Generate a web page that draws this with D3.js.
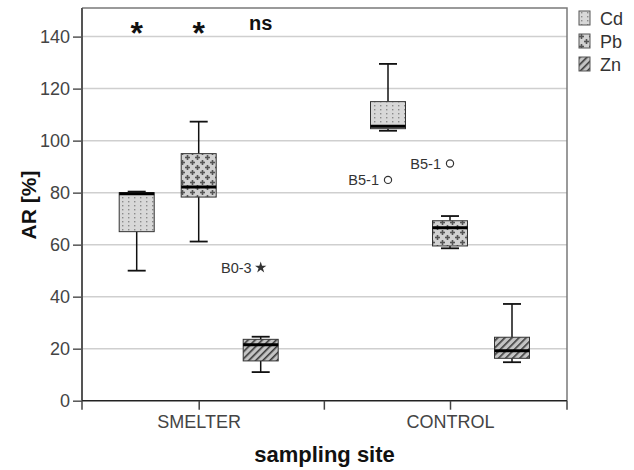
<!DOCTYPE html>
<html><head><meta charset="utf-8">
<script src="https://cdn.jsdelivr.net/npm/d3@7"></script>
<style>body{margin:0;background:#fff}svg{display:block}text{font-family:"Liberation Sans",Arial,sans-serif}</style>
</head><body><div id="chart"></div>
<script>
const sites = ["SMELTER", "CONTROL"];
const metals = ["Cd", "Pb", "Zn"];
// [min, q1, median, q3, max]
const cdStats = [[50, 65, 79.6, 80, 80.4], [103.8, 104.6, 105.5, 115, 129.5]];
const pbStats = [[61.2, 78.3, 82.2, 95, 107.3], [58.6, 59.5, 66.5, 69.2, 71]];
const znStats = [[11, 15.3, 21.5, 23.6, 24.6], [14.8, 16.3, 19.2, 24.4, 37.2]];
const outliers = [
  {site: "SMELTER", metal: "Zn", value: 51.2, label: "B0-3", type: "extreme"},
  {site: "CONTROL", metal: "Cd", value: 84.9, label: "B5-1", type: "outlier"},
  {site: "CONTROL", metal: "Pb", value: 91.2, label: "B5-1", type: "outlier"}
];
const signif = ["*", "*", "ns"];
const yTicks = [0, 20, 40, 60, 80, 100, 120, 140];

(function () {
const W = 634, H = 470;
const pLeft = 82, pRight = 567, pTop = 8, pBottom = 400.7;
const svg = d3.select("#chart").append("svg").attr("width", W).attr("height", H);
const defs = svg.append("defs");

// patterns
const pCd = defs.append("pattern").attr("id", "pCd").attr("patternUnits", "userSpaceOnUse").attr("width", 6).attr("height", 4);
pCd.append("rect").attr("width", 6).attr("height", 4).attr("fill", "#d8d8d8");
pCd.append("rect").attr("x", 2).attr("y", 1).attr("width", 1.4).attr("height", 1.4).attr("fill", "#8a8a8a");

const pPb = defs.append("pattern").attr("id", "pPb").attr("patternUnits", "userSpaceOnUse").attr("width", 10).attr("height", 10);
pPb.append("rect").attr("width", 10).attr("height", 10).attr("fill", "#d2d2d2");
[[2.5, 2.5], [7.5, 7.5]].forEach(([cx, cy]) => {
  pPb.append("rect").attr("x", cx - 2.5).attr("y", cy - 0.8).attr("width", 5).attr("height", 1.6).attr("fill", "#555");
  pPb.append("rect").attr("x", cx - 0.8).attr("y", cy - 2.5).attr("width", 1.6).attr("height", 5).attr("fill", "#555");
});

const pZn = defs.append("pattern").attr("id", "pZn").attr("patternUnits", "userSpaceOnUse").attr("width", 5).attr("height", 5).attr("patternTransform", "rotate(45)");
pZn.append("rect").attr("width", 5).attr("height", 5).attr("fill", "#c4c4c4");
pZn.append("rect").attr("x", 0).attr("y", 0).attr("width", 1.6).attr("height", 5).attr("fill", "#3a3a3a");

const fills = {Cd: "url(#pCd)", Pb: "url(#pPb)", Zn: "url(#pZn)"};
const statsBy = {Cd: cdStats, Pb: pbStats, Zn: znStats};

const y = d3.scaleLinear().domain([0, 151]).range([pBottom, pTop]);
const x = d3.scalePoint().domain(sites).range([198.7, 450]);
const xOff = d3.scalePoint().domain(metals).range([-62, 62]);
const boxW = 35, capW = 18;

// gridlines
svg.append("g").selectAll("line").data(yTicks.filter(d => d > 0)).join("line")
  .attr("x1", pLeft).attr("x2", pRight).attr("y1", d => y(d)).attr("y2", d => y(d))
  .attr("stroke", "#cfcfcf").attr("stroke-width", 1.5);

// frame top/right
svg.append("path").attr("d", `M${pLeft},${pTop}H${pRight}V${pBottom}`).attr("fill", "none").attr("stroke", "#7a7a7a").attr("stroke-width", 1.5);

// y axis
const yAxis = svg.append("g").attr("transform", `translate(${pLeft},0)`)
  .call(d3.axisLeft(y).tickValues(yTicks).tickSize(9).tickPadding(3));
yAxis.select(".domain").attr("stroke", "#555").attr("stroke-width", 2).attr("d", `M0,${pTop}V${pBottom}`);
yAxis.selectAll(".tick line").attr("stroke", "#555").attr("stroke-width", 1.5);
yAxis.selectAll(".tick text").attr("font-size", 18).attr("fill", "#444").attr("font-family", "Liberation Sans, Arial");

// x axis
const xAxis = svg.append("g").attr("transform", `translate(0,${pBottom})`)
  .call(d3.axisBottom(x).tickSize(9).tickPadding(6));
xAxis.select(".domain").attr("d", `M${pLeft},0H${pRight}`).attr("stroke", "#222").attr("stroke-width", 1.5);
xAxis.selectAll(".tick line").attr("stroke", "#444").attr("stroke-width", 1.5);
xAxis.selectAll(".tick text").attr("font-size", 18).attr("fill", "#444").attr("font-family", "Liberation Sans, Arial");
const step = x(sites[1]) - x(sites[0]);
const bounds = [pLeft, x(sites[0]) + step / 2, pRight];
xAxis.selectAll(".bnd").data(bounds).join("line").attr("class", "bnd")
  .attr("x1", d => d).attr("x2", d => d).attr("y1", 0).attr("y2", 9).attr("stroke", "#444").attr("stroke-width", 1.5);

// boxes
const boxes = [];
sites.forEach((s, si) => metals.forEach(m => {
  const [mn, q1, md, q3, mx] = statsBy[m][si];
  boxes.push({site: s, metal: m, mn, q1, md, q3, mx, cx: x(s) + xOff(m)});
}));
const bg = svg.append("g").selectAll("g").data(boxes).join("g");
bg.append("line").attr("x1", d => d.cx).attr("x2", d => d.cx).attr("y1", d => y(d.mx)).attr("y2", d => y(d.q3)).attr("stroke", "#111").attr("stroke-width", 1.5);
bg.append("line").attr("x1", d => d.cx).attr("x2", d => d.cx).attr("y1", d => y(d.q1)).attr("y2", d => y(d.mn)).attr("stroke", "#111").attr("stroke-width", 1.5);
bg.append("line").attr("x1", d => d.cx - capW / 2).attr("x2", d => d.cx + capW / 2).attr("y1", d => y(d.mx)).attr("y2", d => y(d.mx)).attr("stroke", "#111").attr("stroke-width", 1.8);
bg.append("line").attr("x1", d => d.cx - capW / 2).attr("x2", d => d.cx + capW / 2).attr("y1", d => y(d.mn)).attr("y2", d => y(d.mn)).attr("stroke", "#111").attr("stroke-width", 1.8);
bg.append("rect").attr("x", d => d.cx - boxW / 2).attr("width", boxW)
  .attr("y", d => y(d.q3)).attr("height", d => y(d.q1) - y(d.q3))
  .attr("fill", d => fills[d.metal]).attr("stroke", "#333").attr("stroke-width", 1);
bg.append("line").attr("x1", d => d.cx - boxW / 2).attr("x2", d => d.cx + boxW / 2).attr("y1", d => y(d.md)).attr("y2", d => y(d.md)).attr("stroke", "#000").attr("stroke-width", 3);

// outliers
const og = svg.append("g").selectAll("g").data(outliers).join("g")
  .attr("transform", d => `translate(${x(d.site) + xOff(d.metal)},${y(d.value)})`);
og.filter(d => d.type === "outlier").append("circle").attr("r", 3.6).attr("fill", "#fff").attr("stroke", "#333").attr("stroke-width", 1.2);
og.filter(d => d.type === "extreme").append("path").attr("d", d3.symbol(d3.symbolStar, 40)).attr("fill", "#333");
og.append("text").attr("x", -9).attr("dy", "0.35em").attr("text-anchor", "end").attr("font-size", 14.5).attr("fill", "#333").text(d => d.label);

// significance
svg.append("g").selectAll("text").data(metals).join("text")
  .attr("x", m => x("SMELTER") + xOff(m)).attr("y", (m, i) => signif[i] === "*" ? 44 : 30)
  .attr("text-anchor", "middle").attr("font-weight", "bold")
  .attr("font-size", (m, i) => signif[i] === "*" ? 32 : 20).attr("fill", "#111")
  .text((m, i) => signif[i]);

// legend
const lg = svg.append("g").selectAll("g").data(metals).join("g").attr("transform", (d, i) => `translate(579,${11 + i * 23})`);
lg.append("rect").attr("width", 11).attr("height", 14).attr("fill", d => fills[d]).attr("stroke", "#555").attr("stroke-width", 1);
lg.append("text").attr("x", 21).attr("y", 13.5).attr("font-size", 18).attr("fill", "#333").text(d => d);

// axis titles
svg.append("text").attr("transform", "translate(36,205) rotate(-90)").attr("text-anchor", "middle")
  .attr("font-weight", "bold").attr("font-size", 21).attr("fill", "#111").text("AR [%]");
svg.append("text").attr("x", 324.5).attr("y", 462).attr("text-anchor", "middle")
  .attr("font-weight", "bold").attr("font-size", 22).attr("fill", "#111").text("sampling site");
})();
</script></body></html>
